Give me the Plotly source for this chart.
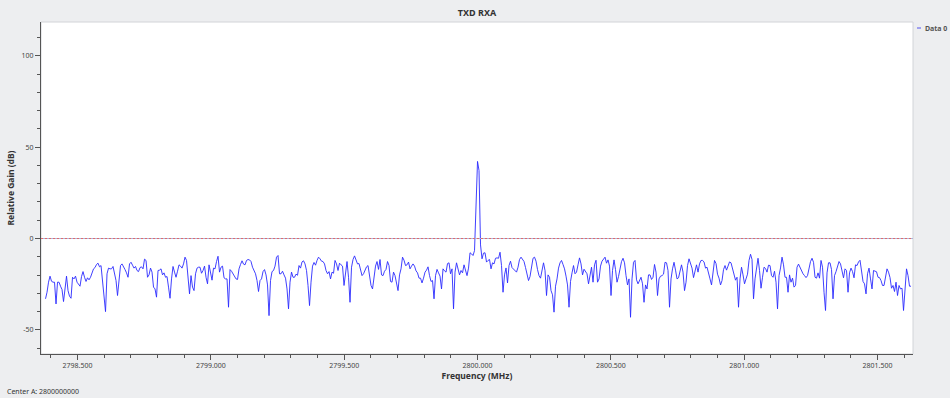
import plotly.graph_objects as go

# ---- data ----
chart_title = "TXD RXA"
series_name = "Data 0"
center_label = "Center A: 2800000000"

freq_start_mhz = 2798.38      # first FFT bin shown
freq_step_mhz = 0.005625      # bin spacing

gain_db = [
    # 2798.38 .. 2798.92 MHz
    -33.0, -29.4, -23.9, -20.6, -23.4, -23.9, -23.9, -35.8, -23.9, -23.9,
    -26.1, -27.9, -34.5, -25.7, -20.6, -28.5, -31.6, -32.7, -21.2, -22.1,
    -20.6, -23.9, -25.2, -26.1, -20.8, -18.1, -21.2, -23.5, -21.5, -22.6,
    -21.2, -18.1, -16.6, -15.9, -14.2, -13.5, -15.5, -14.8, -23.0, -29.4,
    -40.0, -19.3, -16.2, -16.6, -16.6, -15.3, -18.6, -23.0, -31.2, -20.6,
    -14.8, -13.9, -15.1, -17.0, -18.8, -21.2, -13.9, -13.0, -14.6, -16.2,
    -15.3, -17.5, -18.1, -15.9, -15.5, -16.6, -11.3, -12.0, -21.2, -19.9,
    -16.2, -18.4, -26.6, -27.6, -32.1, -17.5, -17.3, -16.6, -19.9, -18.8,
    -21.2, -20.8, -26.6, -32.7, -22.1, -15.3, -18.4, -21.2, -17.9, -14.4,
    -15.1, -16.2, -13.9, -10.2, -12.0, -20.3, -30.3,
    # 2798.93 .. 2799.48 MHz
    -20.3, -26.6, -28.5, -19.3, -16.2, -15.7, -15.7, -19.0, -17.5, -15.1,
    -21.2, -24.8, -14.4, -19.3, -22.8, -16.2, -16.6, -12.6, -9.7, -18.4,
    -15.7, -15.1, -21.5, -22.1, -22.1, -37.6, -17.0, -17.9, -19.3, -19.9,
    -22.1, -22.4, -16.6, -14.2, -12.2, -14.0, -14.4, -12.0, -11.5, -11.7,
    -12.6, -15.7, -18.1, -19.3, -23.0, -29.0, -23.0, -22.1, -18.1, -17.0,
    -19.9, -25.4, -42.2, -23.0, -18.1, -17.5, -15.1, -10.2, -9.3, -19.3,
    -19.3, -17.9, -19.9, -21.7, -27.6, -38.5, -23.9, -18.4, -21.2, -21.2,
    -19.5, -20.1, -14.8, -16.2, -12.8, -12.2, -13.9, -17.5, -25.7, -36.7,
    -23.9, -15.1, -13.1, -14.6, -12.0, -10.2, -11.1, -12.4, -12.6, -13.9,
    -17.5, -19.3, -18.1, -22.1, -18.4, -19.0, -12.0, -13.9, -17.5,
    # 2799.48 .. 2800.03 MHz (carrier)
    -13.5, -14.4, -15.1, -25.7, -19.3, -12.6, -21.2, -34.9, -15.7, -11.5,
    -9.5, -11.7, -13.9, -13.7, -16.6, -20.3, -19.3, -17.5, -15.5, -14.8,
    -19.2, -25.7, -27.6, -21.7, -15.1, -12.6, -16.9, -11.5, -19.9, -20.3,
    -17.9, -16.9, -12.6, -14.8, -23.5, -23.9, -18.4, -20.3, -23.9, -28.5,
    -19.9, -16.6, -10.2, -11.9, -14.8, -14.4, -12.9, -16.6, -15.1, -13.9,
    -15.1, -17.7, -18.8, -21.7, -21.7, -24.3, -21.7, -18.4, -17.3, -15.5,
    -20.3, -23.5, -23.0, -33.0, -20.3, -16.9, -18.8, -20.6, -27.6, -16.6,
    -17.7, -18.4, -13.7, -13.3, -19.3, -16.6, -38.5, -18.4, -13.3, -16.6,
    -19.9, -17.5, -18.8, -14.4, -17.5, -20.3, -16.2, -7.8, -8.4, -9.3,
    -6.6, 23.6, 42.2, 37.2, -3.5, -11.1, -8.0, -7.8, -12.9,
    # 2800.04 .. 2800.59 MHz
    -12.0, -11.5, -16.6, -13.3, -13.9, -10.8, -10.6, -10.8, -7.5, -14.8,
    -29.4, -19.9, -16.1, -24.3, -14.8, -12.4, -15.9, -16.6, -17.5, -18.4,
    -15.7, -11.5, -10.2, -11.1, -12.6, -15.9, -19.3, -23.0, -20.8, -15.7,
    -10.8, -10.2, -12.4, -17.0, -20.3, -21.7, -18.1, -13.3, -17.5, -31.2,
    -19.9, -21.2, -28.5, -30.8, -40.3, -26.1, -22.1, -16.2, -13.3, -12.0,
    -14.2, -16.6, -20.6, -25.4, -37.6, -23.5, -18.8, -14.8, -19.3, -18.4,
    -14.4, -10.6, -13.9, -19.9, -16.8, -17.9, -19.3, -24.8, -18.8, -15.7,
    -23.9, -14.4, -11.9, -23.9, -22.1, -15.1, -12.4, -11.1, -10.2, -13.5,
    -11.7, -15.1, -31.2, -17.5, -11.7, -17.0, -23.9, -20.8, -15.7, -12.6,
    -10.8, -13.3, -20.3, -25.4, -22.1, -43.1, -22.1, -13.0, -12.0,
    # 2800.59 .. 2801.14 MHz
    -22.6, -24.8, -22.6, -21.2, -24.8, -34.9, -25.4, -27.6, -19.9, -19.9,
    -22.4, -21.2, -14.2, -18.4, -31.2, -22.1, -20.6, -20.3, -19.5, -13.0,
    -13.3, -17.5, -37.6, -22.1, -16.6, -13.0, -17.3, -22.1, -21.5, -17.0,
    -14.4, -18.4, -28.5, -23.9, -14.8, -11.1, -13.9, -16.2, -21.4, -17.5,
    -14.4, -18.4, -13.9, -12.0, -12.0, -12.8, -16.2, -15.7, -19.9, -22.1,
    -25.4, -16.6, -12.0, -13.7, -19.5, -21.7, -25.4, -23.0, -17.0, -14.8,
    -17.3, -15.1, -12.8, -13.3, -17.0, -20.6, -22.8, -21.2, -37.6, -22.1,
    -15.7, -19.9, -24.8, -22.1, -19.5, -12.0, -8.6, -11.5, -33.0, -22.1,
    -16.2, -10.8, -17.5, -27.2, -21.2, -15.7, -16.4, -18.4, -14.6, -14.8,
    -20.3, -21.2, -17.9, -23.9, -38.5, -20.3, -16.1, -10.2,
    # 2801.15 .. 2801.63 MHz
    -14.4, -21.2, -21.2, -29.4, -19.9, -23.9, -21.7, -26.6, -25.7, -15.7,
    -14.0, -16.1, -18.2, -19.3, -20.3, -21.4, -20.3, -15.7, -12.6, -10.8,
    -13.0, -21.2, -21.7, -18.8, -21.7, -12.0, -15.7, -29.4, -39.4, -18.8,
    -13.3, -13.3, -17.0, -33.0, -20.3, -18.1, -15.1, -12.6, -13.9, -17.0,
    -21.5, -16.6, -17.5, -29.4, -18.8, -16.2, -18.1, -21.5, -14.4, -14.8,
    -12.8, -11.9, -18.4, -23.5, -24.8, -30.3, -19.3, -16.2, -22.1, -27.6,
    -17.5, -17.7, -18.2, -21.2, -21.4, -23.0, -25.7, -25.7, -21.2, -16.6,
    -18.4, -21.4, -27.2, -25.7, -29.0, -23.9, -31.2, -25.7, -27.6, -27.2,
    -39.4, -25.7, -16.6, -20.3, -26.1, -26.1,
]

x_tick_values = [2798.5, 2799.0, 2799.5, 2800.0, 2800.5, 2801.0, 2801.5]
x_tick_labels = ["2798.500", "2799.000", "2799.500", "2800.000", "2800.500", "2801.000", "2801.500"]
y_tick_values = [-50, 0, 50, 100]
y_tick_labels = ["-50", "0", "50", "100"]
reference_level_db = 0

freq_mhz = [round(freq_start_mhz + i * freq_step_mhz, 6) for i in range(len(gain_db))]

# ---- figure ----
FONT = "Noto Sans, Open Sans, DejaVu Sans, sans-serif"
AXIS = "#555555"
W, H = 950, 398
ML, MR, MT, MB = 41, 37, 22, 44
PW, PH = W - ML - MR, H - MT - MB


def px_x(p):
    return (p - ML) / PW


def px_y(p):
    return (H - MB - p) / PH


fig = go.Figure()
fig.add_trace(go.Scatter(
    x=freq_mhz, y=gain_db, mode="lines", name=series_name,
    line=dict(color="#2a2aff", width=0.9), showlegend=False,
))

fig.update_layout(
    width=W, height=H,
    margin=dict(l=ML, r=MR, t=MT, b=MB, pad=0),
    paper_bgcolor="#edeef0",
    plot_bgcolor="#ffffff",
    font=dict(family=FONT, size=8, color="#444444"),
    title=dict(text="<b>" + chart_title + "</b>", x=(ML + PW / 2) / W, xanchor="center",
               y=1 - 13 / H, yanchor="middle", font=dict(size=9, color="#333333")),
    xaxis=dict(
        range=[2798.363, 2801.633], showgrid=False, zeroline=False,
        showline=True, linecolor=AXIS, linewidth=1,
        ticks="outside", ticklen=5, tickcolor=AXIS, tickwidth=1,
        tickvals=x_tick_values, ticktext=x_tick_labels,
        tickfont=dict(size=7, color="#444444"),
        minor=dict(dtick=0.1, tick0=2798.5, ticks="outside", ticklen=3, tickcolor=AXIS, showgrid=False),
        title=dict(text="<b>Frequency (MHz)</b>", standoff=3, font=dict(size=8.5, color="#333333")),
    ),
    yaxis=dict(
        range=[-63.2, 118.5], showgrid=False, zeroline=False,
        showline=True, linecolor=AXIS, linewidth=1,
        ticks="outside", ticklen=5, tickcolor=AXIS, tickwidth=1,
        tickvals=y_tick_values, ticktext=y_tick_labels,
        tickfont=dict(size=7, color="#444444"),
        minor=dict(dtick=10, tick0=0, ticks="outside", ticklen=3, tickcolor=AXIS, showgrid=False),
        title=dict(text="<b>Relative Gain (dB)</b>", standoff=5, font=dict(size=8.5, color="#333333")),
    ),
    shapes=[
        dict(type="rect", xref="paper", yref="paper", x0=0, x1=1, y0=0, y1=1,
             line=dict(color="#d2d4d8", width=1), layer="below"),
        dict(type="line", xref="paper", yref="y", x0=0, x1=1, y0=reference_level_db, y1=reference_level_db,
             line=dict(color="#a9b3d9", width=1)),
        dict(type="line", xref="paper", yref="y", x0=0, x1=1, y0=reference_level_db, y1=reference_level_db,
             line=dict(color="#e06a6a", width=1, dash="2px,2px")),
        dict(type="line", xref="paper", yref="paper", x0=px_x(917), x1=px_x(921), y0=px_y(28), y1=px_y(28),
             line=dict(color="#5555ee", width=1)),
    ],
    annotations=[
        dict(text="<b>" + series_name + "</b>", xref="paper", yref="paper", x=px_x(923), y=px_y(28),
             xanchor="left", yanchor="middle", showarrow=False, font=dict(size=7, color="#555555")),
        dict(text=center_label, xref="paper", yref="paper", x=px_x(5), y=px_y(391),
             xanchor="left", yanchor="middle", showarrow=False, font=dict(size=7, color="#333333")),
    ],
)

fig.write_html(
    "out.html",
    config={"displayModeBar": False},
    post_script="document.body.style.margin='0px';document.body.style.background='#edeef0';"
                "document.body.style.overflow='hidden';",
)
